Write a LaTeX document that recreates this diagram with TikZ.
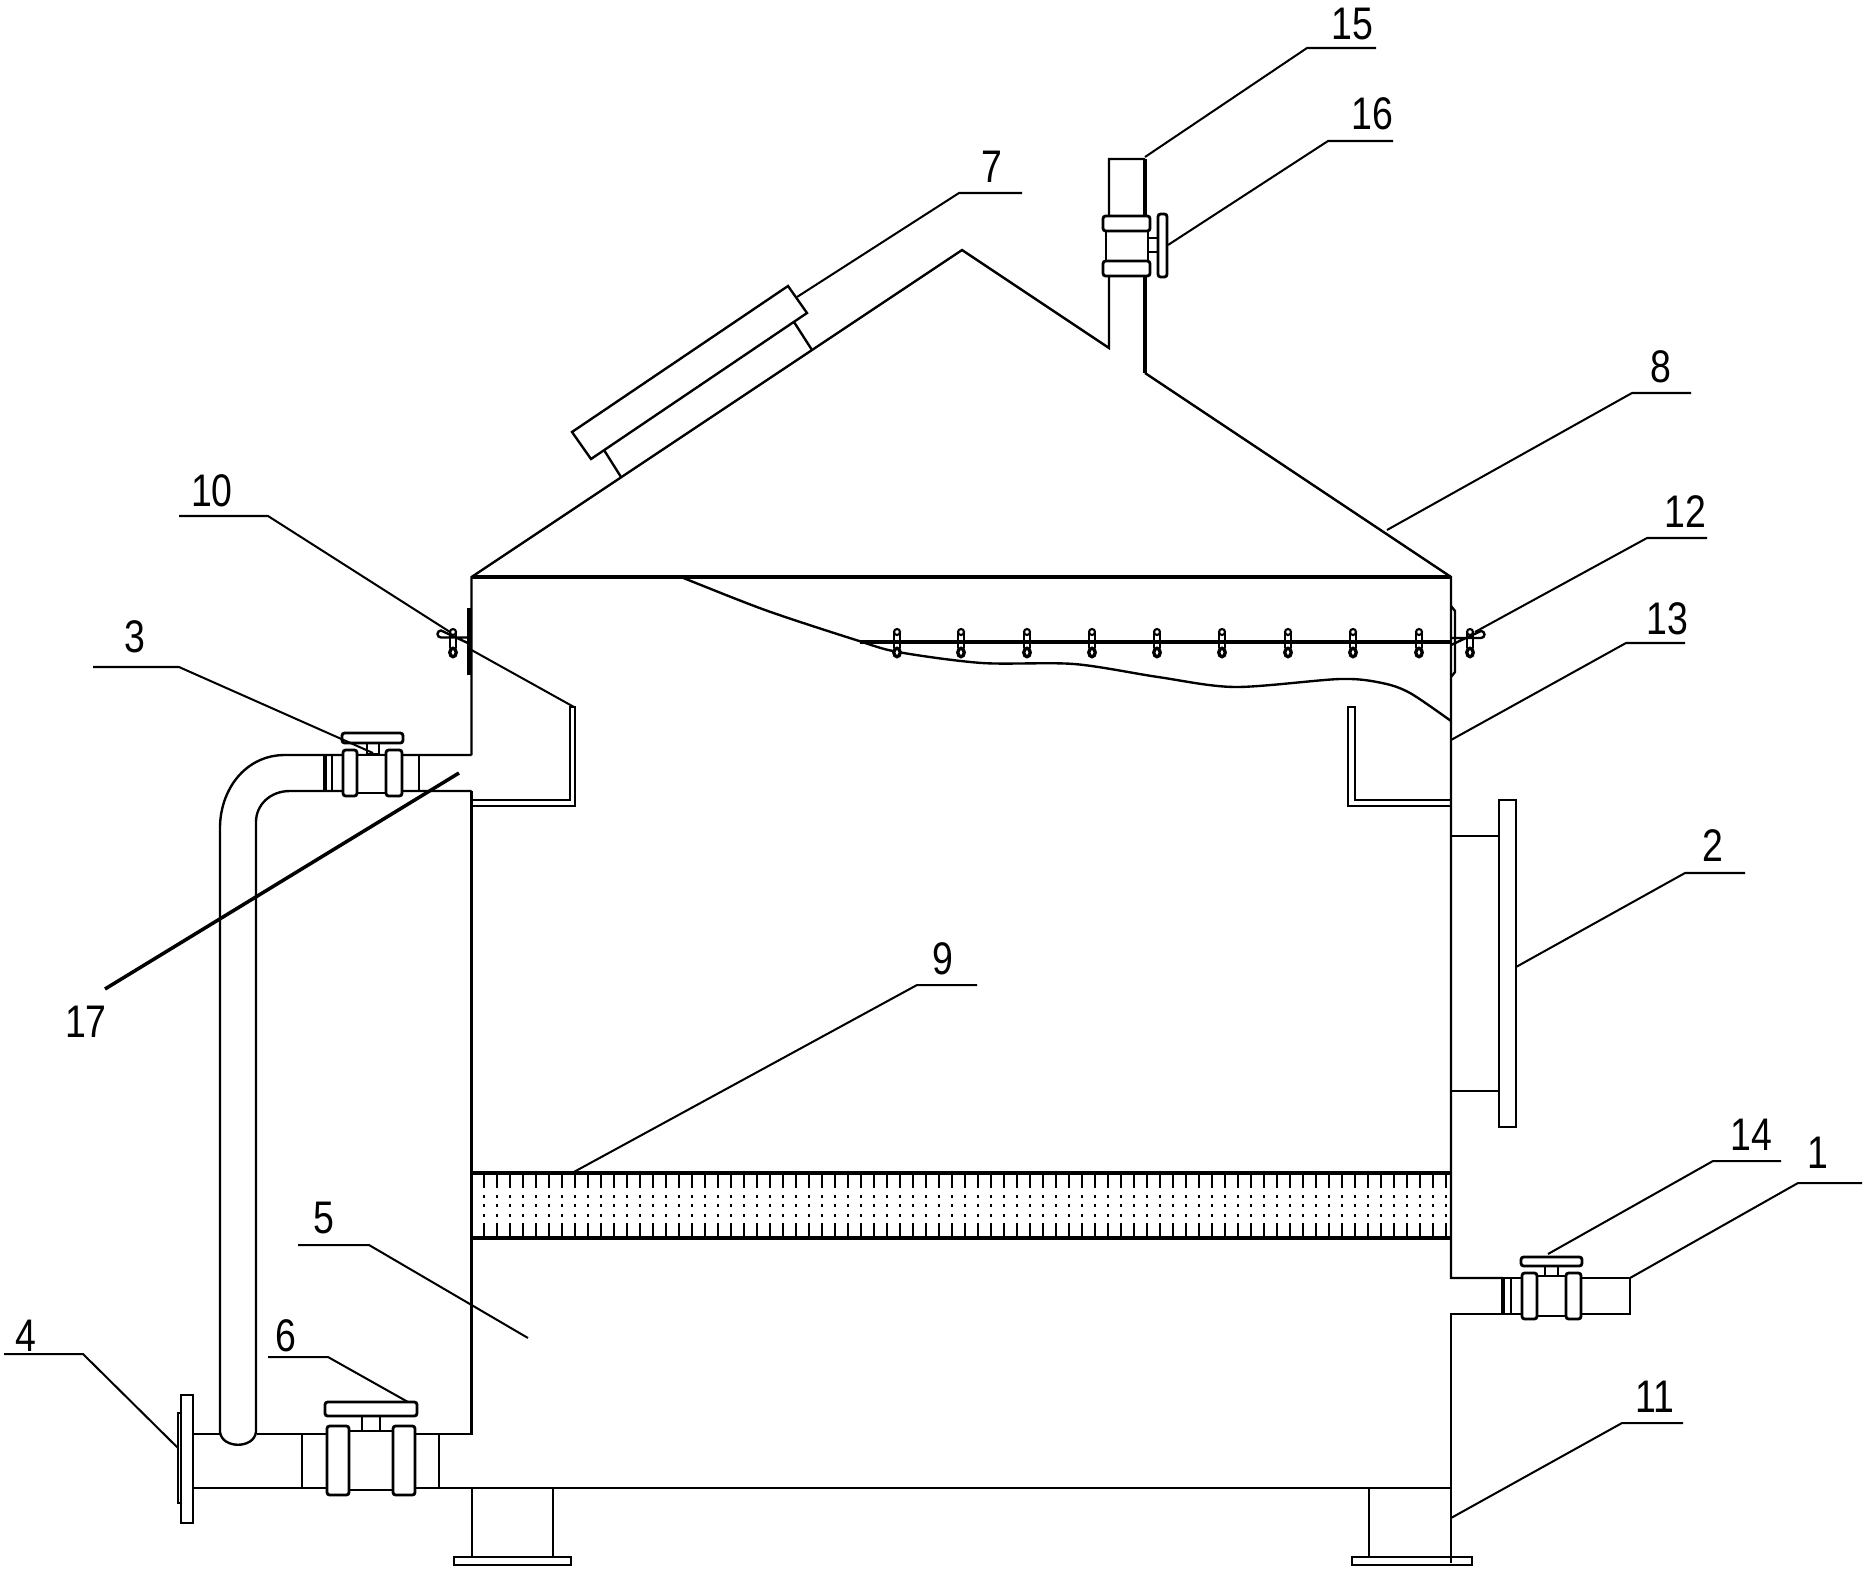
\documentclass[tikz,border=0pt]{standalone}
\usepackage{fontspec}
\setmainfont{Liberation Sans}
\tikzset{
  wall/.style={line width=1.35pt, line join=miter},
  bold wall/.style={line width=2pt},
  leader/.style={line width=1.15pt},
  collar/.style={line width=1.6pt, rounded corners=1.5pt, fill=white},
  tag/.style={inner sep=0pt, font=\fontsize{26}{26}\selectfont, xscale=.82, transform shape}
}
\begin{document}
\begin{tikzpicture}[x=0.02cm,y=-0.02cm]
  \useasboundingbox (0,0) rectangle (1866,1575);
  % vessel and roof
  \draw[wall] (471.5,755) -- (471.5,577) -- (962,250) -- (1109,348) -- (1109,159) -- (1145,159);
  \draw[bold wall] (1145,159) -- (1145,373);
  \draw[wall] (1145,373) -- (1451,577) -- (1451,1278) -- (1503,1278);
  \draw[wall] (1503,1314) -- (1451,1314) -- (1451,1563);
  \draw[wall] (471.5,791) -- (471.5,1434) -- (257,1434);
  \draw[bold wall] (471.5,577) -- (1451,577);
  % wave line and hanging rod
  \draw[wall] plot[smooth] coordinates {(681,577) (765,610) (856,640) (898,652) (982,663) (1074,664) (1158,677) (1235,687) (1340,679) (1382,683) (1410,693) (1451,721)};
  \draw[bold wall] (860,642) -- (1451,642);
  \draw[wall] (1451,638) -- (1481,638) arc (90:-90:3.5) -- (1451,645);
  \draw[wall] (471,637.5) -- (441,637.5) arc (90:270:3.5) -- (471,644.5);
  \draw[bold wall] (469,608) -- (469,675);
  \draw[wall] (1451,606) -- (1455,611) -- (1455,672) -- (1451,677);
  \foreach \x in {453,897,961,1027,1092,1157,1222,1288,1353,1419,1470}{
    \draw[line width=1pt] (\x-3,633) -- (\x-3,648) (\x+3,633) -- (\x+3,648);
    \draw[line width=1.2pt, fill=white] (\x,632) circle (3);
    \draw[line width=1.9pt, fill=white] (\x,652.5) ellipse (3.2 and 4.2);
  }
  % weirs
  \draw[wall] (471.5,800) -- (570,800) -- (570,707) -- (575,707) -- (575,806) -- (471.5,806);
  \draw[wall] (1451,800) -- (1355,800) -- (1355,707) -- (1348,707) -- (1348,806) -- (1451,806);
  % access door
  \draw[wall] (1451,836) -- (1499,836) (1451,1091) -- (1499,1091);
  \draw[wall, fill=white] (1499,800) rectangle (1516,1127);
  % packing layer
  \draw[bold wall] (471.5,1173) -- (1451,1173) (471.5,1238) -- (1451,1238);
  \foreach \x in {484,497,...,1450}{
    \draw[line width=1.5pt] (\x,1173) -- (\x,1188) (\x,1223) -- (\x,1238);
    \fill (\x-1.2,1195) rectangle (\x+1.2,1197.5);
    \fill (\x-1.2,1204) rectangle (\x+1.2,1206.5);
    \fill (\x-1.2,1214) rectangle (\x+1.2,1216.5);
  }
  % instrument on the roof
  \draw[wall] (572,432) -- (788,286) -- (807,313) -- (591,459) -- cycle;
  \draw[wall] (604,450) -- (621,477) (794,322) -- (812,350);
  % upper pipe and its valve
  \draw[wall] (471.5,755) -- (285,755) .. controls (245,755) and (220,790) .. (220,828) -- (220,1432);
  \draw[wall] (471.5,791) -- (290,791) .. controls (270,791) and (256,805) .. (256,822) -- (256,1432);
  \draw[wall] (220,1432) .. controls (222,1449) and (254,1449) .. (256,1432);
  \draw[bold wall] (325,755) -- (325,791);
  \draw[wall] (332,755) -- (332,791) (419,755) -- (419,791);
  \draw[wall, fill=white] (343,755) rectangle (402,793);
  \draw[collar] (343,750) rectangle (357,796);
  \draw[collar] (386,750) rectangle (402,796);
  \draw[wall, fill=white] (367,743) rectangle (379,754);
  \draw[collar] (342,733) rectangle (403,743);
  % lower pipe and its valve
  \draw[wall] (193,1434) -- (220,1434);
  \draw[wall] (193,1488) -- (1451,1488);
  \draw[wall] (302,1434) -- (302,1488) (439,1434) -- (439,1488);
  \draw[wall] (302,1434) -- (327,1434) (415,1434) -- (439,1434);
  \draw[wall, fill=white] (178,1413) rectangle (181,1503);
  \draw[wall, fill=white] (181,1395) rectangle (193,1523);
  \draw[wall, fill=white] (327,1431) rectangle (415,1490);
  \draw[collar] (327,1426) rectangle (349,1495);
  \draw[collar] (393,1426) rectangle (415,1495);
  \draw[wall, fill=white] (362,1416) rectangle (380,1431);
  \draw[collar] (325,1402) rectangle (417,1416);
  % feet
  \draw[wall] (472,1488) -- (472,1557) (553,1488) -- (553,1557);
  \draw[wall] (454,1557) rectangle (571,1565);
  \draw[wall] (1369,1488) -- (1369,1557);
  \draw[wall] (1352,1557) rectangle (1472,1565);
  % right pipe and its valve
  \draw[wall] (1503,1278) -- (1630,1278) -- (1630,1314) -- (1503,1314);
  \draw[bold wall] (1503,1278) -- (1503,1314);
  \draw[wall] (1511,1278) -- (1511,1314);
  \draw[wall, fill=white] (1522,1276) rectangle (1581,1316);
  \draw[collar] (1522,1273) rectangle (1537,1319);
  \draw[collar] (1566,1273) rectangle (1581,1319);
  \draw[wall, fill=white] (1545,1266) rectangle (1558,1276);
  \draw[collar] (1521,1257) rectangle (1582,1266);
  % top pipe and its valve
  \draw[wall, fill=white] (1106,231) rectangle (1148,261);
  \draw[collar] (1103,216) rectangle (1150,231);
  \draw[collar] (1103,261) rectangle (1150,276);
  \draw[wall, fill=white] (1148,238) rectangle (1158,252);
  \draw[collar] (1158,214) rectangle (1167,277);
  % leaders
  \draw[leader] (1630,1278) -- (1798,1183) -- (1862,1183);
  \draw[leader] (1516,967) -- (1685,873) -- (1745,873);
  \draw[leader] (373,753) -- (179,667) -- (93,667);
  \draw[leader] (178,1448) -- (83,1354) -- (4,1354);
  \draw[leader] (528,1338) -- (369,1245) -- (298,1245);
  \draw[leader] (408,1402) -- (328,1357) -- (268,1357);
  \draw[leader] (797,297) -- (959,193) -- (1022,193);
  \draw[leader] (1387,530) -- (1632,393) -- (1691,393);
  \draw[leader] (572,1173) -- (917,985) -- (977,985);
  \draw[leader] (450,632) -- (268,516) -- (179,516);
  \draw[leader] (471.5,650) -- (574,707);
  \draw[leader] (1451,1518) -- (1622,1423) -- (1683,1423);
  \draw[leader] (1475,632) -- (1647,538) -- (1707,538);
  \draw[leader] (1451,740) -- (1626,643) -- (1685,643);
  \draw[leader] (1548,1254) -- (1713,1161) -- (1781,1161);
  \draw[leader] (1145,157) -- (1307,48) -- (1376,48);
  \draw[leader] (1168,245) -- (1328,141) -- (1393,141);
  \draw[line width=2pt] (459,773) -- (105,989);
  % part numbers
  \node[tag] (n1) at (1818,1153) {1};
  \node[tag] (n2) at (1713,846) {2};
  \node[tag] (n3) at (135,637) {3};
  \node[tag] (n4) at (26,1336) {4};
  \node[tag] (n5) at (324,1218) {5};
  \node[tag] (n6) at (286,1336) {6};
  \node[tag] (n7) at (992,167) {7};
  \node[tag] (n8) at (1661,367) {8};
  \node[tag] (n9) at (943,959) {9};
  \node[tag] (n10) at (212,491) {10};
  \node[tag] (n11) at (1655,1397) {11};
  \node[tag] (n12) at (1685,512) {12};
  \node[tag] (n13) at (1667,619) {13};
  \node[tag] (n14) at (1751,1135) {14};
  \node[tag] (n15) at (1352,24) {15};
  \node[tag] (n16) at (1372,114) {16};
  \node[tag] (n17) at (86,1022) {17};
\end{tikzpicture}
\end{document}
